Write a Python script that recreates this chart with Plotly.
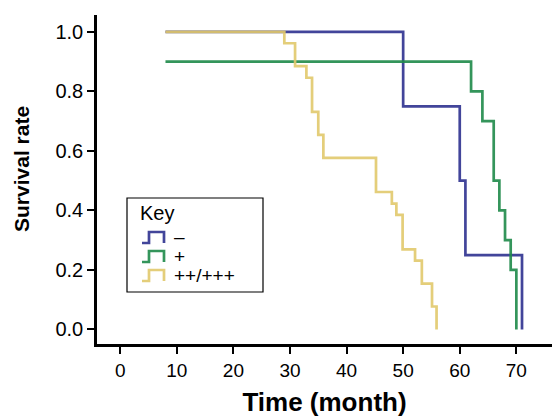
import plotly.graph_objects as go

# ---- data ----
blue_t = [8, 50, 60, 61, 71]
blue_s = [1.0, 0.75, 0.5, 0.25, 0.0]

green_t = [8, 62, 64, 66, 67, 68, 69, 70]
green_s = [0.9, 0.8, 0.7, 0.5, 0.4, 0.3, 0.2, 0.0]

yellow_t = [8, 29.0, 30.9, 32.9, 33.9, 35.0, 35.9, 45.2, 48.0, 48.8, 49.9, 52.1, 53.3, 55.1, 55.9]
yellow_s = [1.0, 0.962, 0.885, 0.846, 0.731, 0.654, 0.577, 0.462, 0.423, 0.385, 0.269, 0.231, 0.154, 0.077, 0.0]

series_names = ["–", "+", "++/+++"]
series_colors = ["#2e3190", "#1f8a4a", "#e2c96c"]
x_ticks = [0, 10, 20, 30, 40, 50, 60, 70]
y_ticks = [0.0, 0.2, 0.4, 0.6, 0.8, 1.0]

FONT = "Arial, Liberation Sans, Helvetica, sans-serif"

fig = go.Figure()
for t, s, name, col in zip([blue_t, green_t, yellow_t], [blue_s, green_s, yellow_s],
                           series_names, series_colors):
    fig.add_trace(go.Scatter(x=t, y=s, mode="lines", name=name,
                             line=dict(color=col, width=2.7, shape="hv"),
                             opacity=0.9, showlegend=False))

axis_common = dict(showline=True, linecolor="black", linewidth=2.6, ticks="outside",
                   ticklen=7, tickwidth=2.2, tickcolor="black", showgrid=False,
                   zeroline=False)

fig.update_xaxes(range=[-4.1, 76.3], tickvals=x_ticks,
                 tickfont=dict(family=FONT, size=19, color="black"),
                 title=dict(text="<b>Time (month)</b>", font=dict(family=FONT, size=26, color="black"),
                            standoff=18),
                 **axis_common)
fig.update_yaxes(range=[-0.049, 1.057], tickvals=y_ticks, tickformat=".1f",
                 tickfont=dict(family=FONT, size=20, color="black"),
                 **axis_common)

W, H = 455.0, 329.0  # plot area size in px
def px(xp):
    return (xp - 97) / W
def py(yp):
    return (344 - yp) / H

# y-axis title
fig.add_annotation(xref="paper", yref="paper", x=px(21), y=py(169), text="<b>Survival rate</b>",
                   showarrow=False, textangle=-90, xanchor="center", yanchor="middle",
                   font=dict(family=FONT, size=21, color="black"))

# ---- manual key (legend) with step-shaped icons ----
fig.add_shape(type="rect", xref="paper", yref="paper",
              x0=px(127), x1=px(263), y0=py(292), y1=py(198),
              line=dict(color="black", width=1.2), fillcolor="white", layer="above")
fig.add_annotation(xref="paper", yref="paper", x=px(138), y=py(213), text="Key",
                   showarrow=False, xanchor="left", yanchor="middle",
                   font=dict(family=FONT, size=20, color="black"))
row_y = [237, 256, 275]
for yc, name, col in zip(row_y, series_names, series_colors):
    xa, xb, xc = 142, 149, 164
    yb, yt = yc + 6, yc - 5
    path = (f"M {px(xa)},{py(yb)} L {px(xb)},{py(yb)} L {px(xb)},{py(yt)} "
            f"L {px(xc)},{py(yt)} L {px(xc)},{py(yb)}")
    fig.add_shape(type="path", xref="paper", yref="paper", path=path,
                  line=dict(color=col, width=2.7), opacity=0.9, layer="above")
    fig.add_annotation(xref="paper", yref="paper", x=px(172), y=py(yc), text=name,
                       showarrow=False, xanchor="left", yanchor="middle",
                       font=dict(family=FONT, size=19, color="black"))

fig.update_layout(width=552, height=417, margin=dict(l=97, r=0, t=15, b=73),
                  plot_bgcolor="white", paper_bgcolor="white")

fig.write_html("out.html", config={"displayModeBar": False},
               post_script="document.body.style.margin='0';document.body.style.overflow='hidden';")
